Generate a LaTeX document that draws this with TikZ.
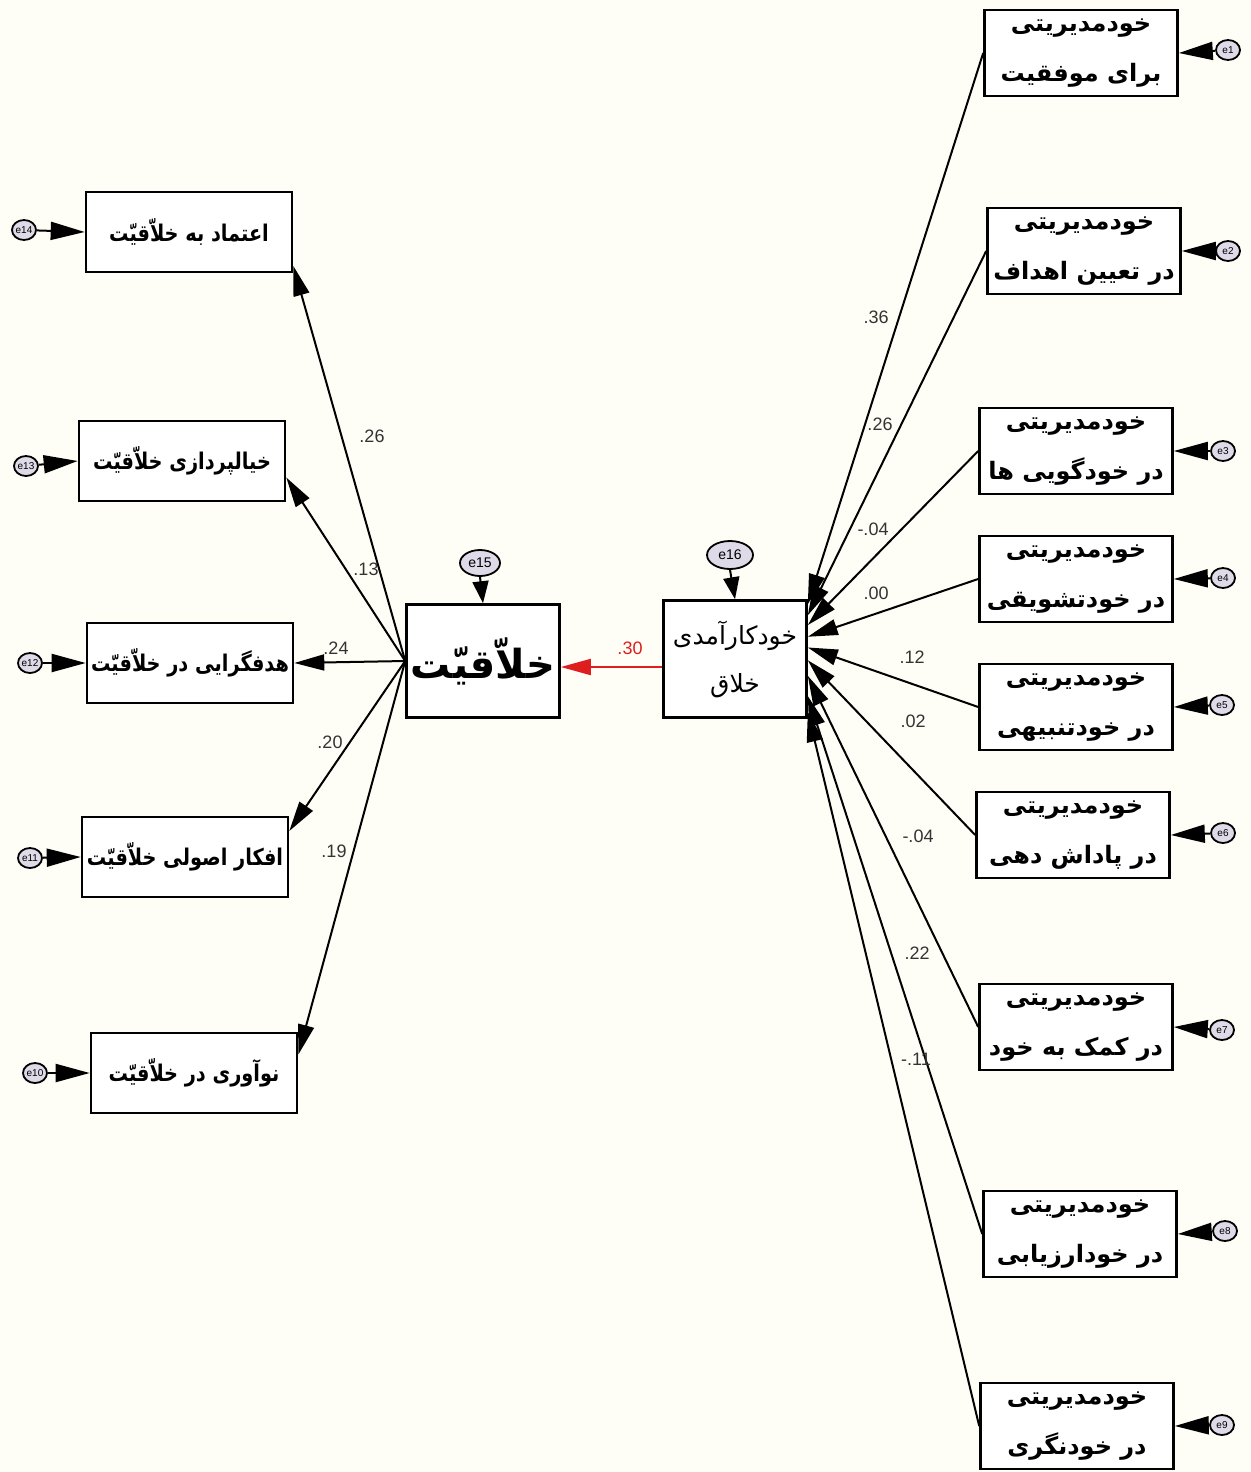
\documentclass[tikz,border=0pt]{standalone}
\usepackage{graphicx}
\usepackage{fontspec}
\setmainfont{Liberation Sans}
\newfontfamily\fa[Script=Arabic]{DejaVu Sans}
\TeXXeTstate=1
\usetikzlibrary{arrows.meta,shapes.geometric,calc}
\definecolor{bg}{RGB}{255,254,246}
\definecolor{errfill}{RGB}{222,218,232}
\definecolor{pathred}{RGB}{222,30,30}
\newcommand{\ltxt}[1]{\scalebox{0.84}[1]{\beginR #1\endR}}
\begin{document}
\begin{tikzpicture}[x=0.5pt,y=-0.5pt,
 box/.style={draw, line width=1.3pt, fill=white, inner sep=0pt, align=center,
   font=\fa\bfseries\fontsize{12}{25}\selectfont},
 lbox/.style={box, minimum width=103pt, minimum height=40pt,
   font=\fa\bfseries\fontsize{11.5}{13}\selectfont},
 rbox/.style={box, minimum width=96.5pt, minimum height=43pt},
 err/.style={draw, ellipse, line width=0.9pt, fill=errfill, minimum width=12pt,
   minimum height=10pt, inner sep=0pt, font=\fontsize{5}{5}\selectfont},
 errarrow/.style={-{Triangle[length=17pt,width=9pt]}, line width=1pt},
 toparrow/.style={-{Triangle[length=11pt,width=8pt]}, line width=1pt},
 patharrow/.style={-{Triangle[length=15pt,width=8pt]}, line width=1pt},
 coef/.style={font=\fontsize{9}{9}\selectfont, text=black!80},
]
\path[fill=bg] (0,0) rectangle (1250,1472);

% left indicator boxes
\node[lbox] (L1) at (189,232) {\ltxt{اعتماد به خلاّقیّت}};
\node[lbox] (L2) at (182,461) {\ltxt{خیالپردازی خلاّقیّت}};
\node[lbox] (L3) at (190,663) {\ltxt{هدفگرایی در خلاّقیّت}};
\node[lbox] (L4) at (185,857) {\ltxt{افکار اصولی خلاّقیّت}};
\node[lbox] (L5) at (194,1073) {\ltxt{نوآوری در خلاّقیّت}};

% left errors
\node[err] (e14) at (24,230) {e14};
\node[err] (e13) at (26,466) {e13};
\node[err] (e12) at (30,663) {e12};
\node[err] (e11) at (30,858) {e11};
\node[err] (e10) at (35,1073) {e10};
\draw[errarrow] (e14) -- (L1.west);
\draw[errarrow] (e13) -- (L2.west);
\draw[errarrow] (e12) -- (L3.west);
\draw[errarrow] (e11) -- (L4.west);
\draw[errarrow] (e10) -- (L5.west);

% central boxes
\node[box, minimum width=76.5pt, minimum height=56.5pt,
  font=\fa\bfseries\fontsize{20}{22}\selectfont] (C) at (483,661) {\beginR خلاّقیّت\endR};
\node[box, minimum width=71.5pt, minimum height=58.5pt,
  font=\fa\fontsize{12.5}{24}\selectfont] (K) at (735,659) {\beginR خودکارآمدی\endR\\\beginR خلاق\endR};

\node[err, minimum width=20pt, minimum height=13pt, font=\fontsize{7}{7}\selectfont] (e15) at (480,563) {e15};
\node[err, minimum width=23pt, minimum height=14pt, font=\fontsize{7}{7}\selectfont] (e16) at (730,555) {e16};
\draw[toparrow] (e15.south) -- (C.north);
\draw[toparrow] (e16.south) -- (K.north);

\draw[patharrow, draw=pathred, fill=pathred] (K.west |- 0,667) coordinate (kw) -- (C.east |- kw);
\node[coef, text=pathred] (c30) at (630,648) {.30};

% paths to left indicators
\coordinate (cw) at (C.west);
\draw[patharrow] (cw) -- (L1.-18);
\draw[patharrow] (cw) -- (L2.-9);
\draw[patharrow] (cw) -- (L3.east);
\draw[patharrow] (cw) -- (L4.14);
\draw[patharrow] (cw) -- (L5.10);
\node[coef] (c1) at (372,436) {.26};
\node[coef] (c2) at (366,569) {.13};
\node[coef] (c3) at (336,648) {.24};
\node[coef] (c4) at (330,742) {.20};
\node[coef] (c5) at (334,851) {.19};

% right indicator boxes
\node[rbox] (R1) at (1081,53)  {\beginR خودمدیریتی\endR\\\beginR برای موفقیت\endR};
\node[rbox] (R2) at (1084,251) {\beginR خودمدیریتی\endR\\\beginR در تعیین اهداف\endR};
\node[rbox] (R3) at (1076,451) {\beginR خودمدیریتی\endR\\\beginR در خودگویی ها\endR};
\node[rbox] (R4) at (1076,579) {\beginR خودمدیریتی\endR\\\beginR در خودتشویقی\endR};
\node[rbox] (R5) at (1076,707) {\beginR خودمدیریتی\endR\\\beginR در خودتنبیهی\endR};
\node[rbox] (R6) at (1073,835) {\beginR خودمدیریتی\endR\\\beginR در پاداش دهی\endR};
\node[rbox] (R7) at (1076,1027) {\beginR خودمدیریتی\endR\\\beginR در کمک به خود\endR};
\node[rbox] (R8) at (1080,1234) {\beginR خودمدیریتی\endR\\\beginR در خودارزیابی\endR};
\node[rbox] (R9) at (1077,1426) {\beginR خودمدیریتی\endR\\\beginR در خودنگری\endR};

% right errors
\node[err] (e1) at (1228,50) {e1};
\node[err] (e2) at (1228,251) {e2};
\node[err] (e3) at (1223,451) {e3};
\node[err] (e4) at (1223,578) {e4};
\node[err] (e5) at (1222,705) {e5};
\node[err] (e6) at (1223,833) {e6};
\node[err] (e7) at (1222,1030) {e7};
\node[err] (e8) at (1225,1231) {e8};
\node[err] (e9) at (1222,1425) {e9};
\foreach \i in {1,...,9} {\draw[errarrow] (e\i) -- (R\i.east);}

% paths from right indicators
\draw[patharrow] (R1.west) -- (K.37);
\draw[patharrow] (R2.west) -- (K.31);
\draw[patharrow] (R3.west) -- (K.25);
\draw[patharrow] (R4.west) -- (K.17);
\draw[patharrow] (R5.west) -- (K.9);
\draw[patharrow] (R6.west) -- (K.-1);
\draw[patharrow] (R7.west) -- (K.-13);
\draw[patharrow] (R8.west) -- (K.-27);
\draw[patharrow] (R9.west) -- (K.-36);
\node[coef] (d1) at (876,317) {.36};
\node[coef] (d2) at (880,424) {.26};
\node[coef] (d3) at (873,529) {-.04};
\node[coef] (d4) at (876,593) {.00};
\node[coef] (d5) at (912,657) {.12};
\node[coef] (d6) at (913,721) {.02};
\node[coef] (d7) at (918,836) {-.04};
\node[coef] (d8) at (917,953) {.22};
\node[coef] (d9) at (916,1059) {-.11};
\end{tikzpicture}
\end{document}
